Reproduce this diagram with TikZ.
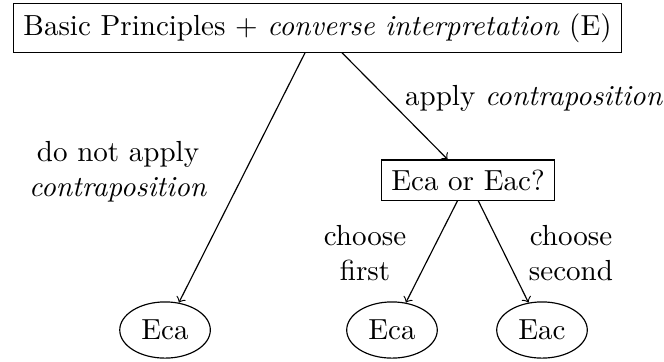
\documentclass[tikz,border=0pt]{standalone}
\usepackage{amsmath,amssymb}
\usetikzlibrary{arrows,shapes.geometric}
\tikzset{box/.style={draw, rectangle},
  oval/.style={draw, ellipse, inner xsep=2.9pt, minimum height=.68cm},
  lbl/.style={align=center}}

\begin{document}
\begin{tikzpicture}

          % tree
        \useasboundingbox (0,0) rectangle (8.034,4.368);
        \node (top) at (3.842,4.029) [box] {Basic Principles $+$ \textit{converse interpretation} (E)};
        \node (choice) at (5.663,2.19) [box] {Eca or Eac?};
        \node (ecaL) at (1.997,.375) [oval] {Eca};
        \node (ecaR) at (4.743,.375) [oval] {Eca};
        \node (eac) at (6.558,.375) [oval] {Eac};

        \draw[->] (top) to (ecaL);
        \draw[->] (top) to (choice);
        \draw[->] (choice) to (ecaR);
        \draw[->] (choice) to (eac);

          \node (nocontra) at (1.428,2.287) [lbl] {do not apply\\ \textit{contraposition}};
          \node (contra) at (6.461,3.182) [lbl] {apply \textit{contraposition}};
          \node (first) at (4.417,1.307) [lbl] {choose\\ first};
          \node (second) at (6.909,1.307) [lbl] {choose\\ second};

        \end{tikzpicture}
\end{document}
